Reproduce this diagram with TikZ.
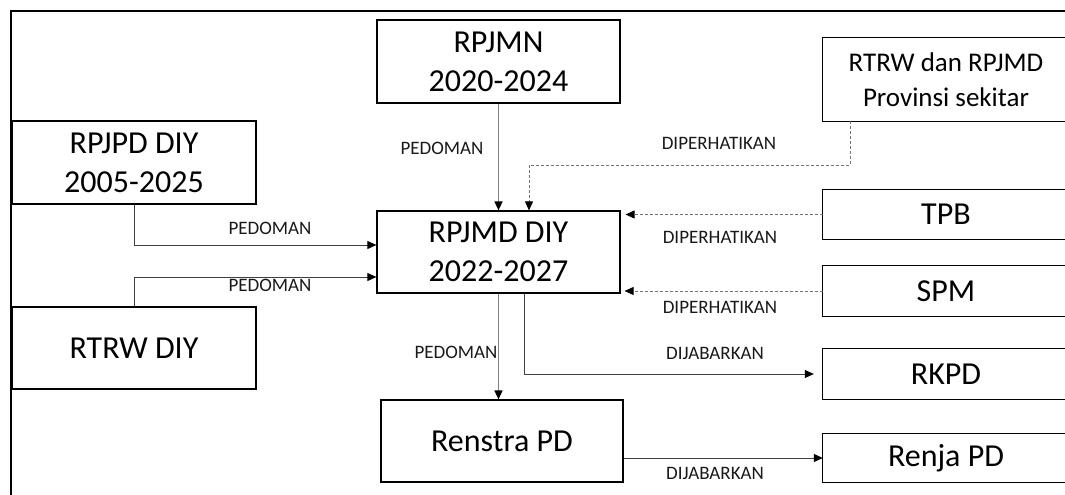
\documentclass[tikz,border=0pt]{standalone}
\usepackage{fontspec}
\setmainfont{Carlito}
\usetikzlibrary{arrows.meta}

\newcommand{\boxfont}{\fontsize{32}{39}\selectfont}
\newcommand{\midfont}{\fontsize{27}{35}\selectfont}
\newcommand{\ketfont}{\fontsize{19}{23}\selectfont}

\tikzset{
  kotak/.style={draw, line width=1.2pt, inner sep=0pt, align=center, font=\boxfont},
  kanan/.style={inner sep=0pt, align=center, font=\boxfont, minimum width=246},
  ket/.style={font=\ketfont, text=black!90, inner sep=0pt},
  panah/.style={draw=black!75, line width=0.8pt, -{Triangle[length=9pt,width=8pt,color=black]}},
  tebal/.style={panah, draw=black!50, line width=1.6pt},
  putus/.style={panah, draw=black!55, dash pattern=on 3pt off 2pt}
}

\begin{document}
\begin{tikzpicture}[x=1pt,y=-1pt]
  \useasboundingbox (0,0) rectangle (1065,495);
  \clip (0,0) rectangle (1065,495);
  % bingkai
  \draw[line width=2.5pt] (11,496) -- (11,11) -- (1066,11);

  % kotak tengah
  \node[kotak, minimum width=243, minimum height=83] (rpjmn) at (498.5,61.5) {RPJMN\\2020-2024};
  \node[kotak, minimum width=243, minimum height=82] (rpjmd) at (498.5,252) {RPJMD DIY\\2022-2027};
  \node[kotak, minimum width=242, minimum height=82] (renstra) at (502,441) {Renstra PD};

  % kotak kiri
  \node[kotak, minimum width=244, minimum height=83] (rpjpd) at (134,162.5) {RPJPD DIY\\2005-2025};
  \node[kotak, minimum width=244, minimum height=82] (rtrw) at (134,348) {RTRW DIY};

  % kotak kanan (terpotong di tepi kanan)
  \node[kanan, font=\midfont, minimum height=83] (sekitar) at (946,79.5) {RTRW dan RPJMD\\Provinsi sekitar};
  \node[kanan, minimum height=49] (tpb) at (946,214.5) {TPB};
  \node[kanan, minimum height=50] (spm) at (946,291) {SPM};
  \node[kanan, minimum height=50] (rkpd) at (946,374) {RKPD};
  \node[kanan, minimum height=48] (renja) at (946,458) {Renja PD};
  \foreach \k in {sekitar,tpb,spm,rkpd,renja}{
    \draw[line width=1.2pt] (\k.north east) -- (\k.north west) -- (\k.south west) -- (\k.south east);
  }

  % keterangan
  \node[ket] (ped1) at (442,148) {PEDOMAN};
  \node[ket] (ped2) at (270,228) {PEDOMAN};
  \node[ket] (ped3) at (270,285) {PEDOMAN};
  \node[ket] (ped4) at (456,352) {PEDOMAN};
  \node[ket] (per1) at (719,143) {DIPERHATIKAN};
  \node[ket] (per2) at (720,237) {DIPERHATIKAN};
  \node[ket] (per3) at (720,307) {DIPERHATIKAN};
  \node[ket] (jab1) at (715,353) {DIJABARKAN};
  \node[ket] (jab2) at (715,473) {DIJABARKAN};

  % hubungan
  \draw[tebal] (rpjmn.south) -- (rpjmd.north);
  \draw[panah] (rpjpd.south) |- ([yshift=7pt]rpjmd.west);
  \draw[panah] (rtrw.north) |- ([yshift=-25pt]rpjmd.west);
  \coordinate (belok) at (850,165);
  \draw[putus] (belok |- sekitar.south) -- (belok) -| ([xshift=30.5pt]rpjmd.north);
  \draw[putus, shorten >=5pt] (tpb.west) -- (tpb.west -| rpjmd.east);
  \draw[putus, shorten >=4pt] (spm.west) -- (spm.west -| rpjmd.east);
  \draw[tebal] (rpjmd.south) -- (rpjmd.south |- renstra.north);
  \draw[panah, shorten >=9pt] ([xshift=25.5pt]rpjmd.south) |- (rkpd.west);
  \draw[panah] (renstra.east |- renja.west) -- (renja.west);
\end{tikzpicture}
\end{document}
